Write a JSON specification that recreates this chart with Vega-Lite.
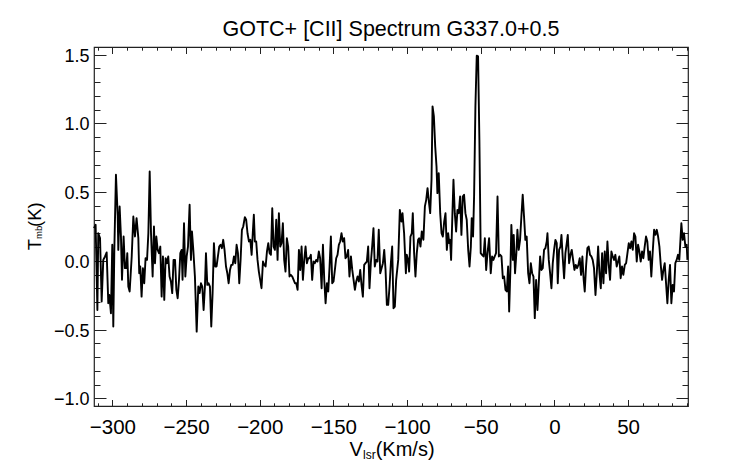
{
  "$schema": "https://vega.github.io/schema/vega-lite/v6.json",
  "width": 594,
  "height": 359,
  "autosize": {"type": "none"},
  "padding": {"left": 94, "top": 47, "right": 54, "bottom": 58},
  "background": "white",
  "title": {
    "text": "GOTC+ [CII] Spectrum G337.0+0.5",
    "font": "Liberation Sans",
    "fontSize": 21.5,
    "fontWeight": "normal",
    "color": "#000",
    "anchor": "middle",
    "frame": "group",
    "offset": 6
  },
  "datasets": {
    "spec": [
      {"v":-312.5,"T":0.238},{"v":-311.4,"T":0.262},{"v":-310.2,"T":-0.357},{"v":-309.6,"T":0.201},{"v":-308.4,"T":0.165},
      {"v":-307.3,"T":-0.296},{"v":-306.2,"T":0.007},{"v":-305.0,"T":0.032},{"v":-303.9,"T":0.061},{"v":-302.8,"T":-0.308},
      {"v":-302.1,"T":-0.248},{"v":-301.0,"T":-0.381},{"v":-300.1,"T":0.117},{"v":-299.4,"T":-0.478},{"v":-298.7,"T":0.080},
      {"v":-297.6,"T":0.626},{"v":-296.4,"T":0.323},{"v":-296.0,"T":0.080},{"v":-295.1,"T":0.396},{"v":-294.2,"T":0.177},
      {"v":-293.5,"T":-0.138},{"v":-292.4,"T":0.177},{"v":-291.5,"T":-0.053},{"v":-290.6,"T":-0.053},{"v":-289.9,"T":0.056},
      {"v":-289.2,"T":-0.187},{"v":-288.3,"T":-0.223},{"v":-286.9,"T":0.032},{"v":-285.8,"T":0.323},{"v":-284.7,"T":0.177},
      {"v":-283.6,"T":0.311},{"v":-282.4,"T":0.165},{"v":-281.8,"T":-0.090},{"v":-281.1,"T":-0.041},{"v":-280.2,"T":-0.260},
      {"v":-279.3,"T":-0.053},{"v":-278.4,"T":-0.163},{"v":-277.5,"T":0.019},{"v":-276.5,"T":0.007},{"v":-275.6,"T":0.201},
      {"v":-274.7,"T":0.650},{"v":-273.8,"T":0.201},{"v":-272.7,"T":-0.114},{"v":-271.8,"T":0.250},{"v":-271.1,"T":-0.017},
      {"v":-270.2,"T":0.177},{"v":-269.3,"T":0.080},{"v":-268.4,"T":0.056},{"v":-267.5,"T":0.104},{"v":-266.6,"T":-0.260},
      {"v":-265.7,"T":0.032},{"v":-264.8,"T":-0.284},{"v":-263.9,"T":0.019},{"v":-263.0,"T":-0.017},{"v":-262.1,"T":0.032},
      {"v":-261.2,"T":-0.114},{"v":-260.3,"T":-0.150},{"v":-259.4,"T":-0.235},{"v":-258.5,"T":0.007},{"v":-257.5,"T":0.007},
      {"v":-256.6,"T":-0.211},{"v":-255.7,"T":-0.272},{"v":-254.8,"T":-0.138},{"v":-253.9,"T":0.056},{"v":-253.0,"T":0.080},
      {"v":-252.4,"T":-0.138},{"v":-251.4,"T":0.274},{"v":-250.5,"T":-0.114},{"v":-249.6,"T":0.032},{"v":-248.7,"T":0.104},
      {"v":-247.6,"T":0.408},{"v":-246.7,"T":0.007},{"v":-246.0,"T":0.214},{"v":-245.1,"T":0.080},{"v":-244.0,"T":-0.114},
      {"v":-242.8,"T":-0.515},{"v":-241.7,"T":-0.187},{"v":-240.8,"T":-0.235},{"v":-239.9,"T":-0.163},{"v":-239.0,"T":-0.187},
      {"v":-238.1,"T":-0.357},{"v":-237.2,"T":-0.187},{"v":-236.5,"T":0.056},{"v":-235.6,"T":-0.175},{"v":-234.7,"T":-0.163},
      {"v":-233.8,"T":-0.187},{"v":-232.9,"T":-0.478},{"v":-232.0,"T":-0.235},{"v":-231.1,"T":0.129},{"v":-230.2,"T":-0.041},
      {"v":-229.3,"T":-0.041},{"v":-228.4,"T":0.032},{"v":-227.5,"T":0.104},{"v":-226.6,"T":0.117},{"v":-225.7,"T":0.092},
      {"v":-224.8,"T":0.153},{"v":-223.9,"T":0.080},{"v":-222.9,"T":-0.041},{"v":-222.0,"T":-0.090},{"v":-221.1,"T":-0.163},
      {"v":-220.2,"T":-0.066},{"v":-219.3,"T":-0.029},{"v":-218.4,"T":-0.029},{"v":-217.5,"T":0.032},{"v":-216.6,"T":-0.017},
      {"v":-215.7,"T":0.117},{"v":-214.8,"T":0.056},{"v":-213.9,"T":-0.163},{"v":-213.0,"T":0.007},{"v":-212.1,"T":0.226},
      {"v":-211.2,"T":0.250},{"v":-210.1,"T":0.318},{"v":-209.2,"T":0.299},{"v":-208.3,"T":0.201},{"v":-207.3,"T":0.141},
      {"v":-206.4,"T":0.153},{"v":-205.5,"T":0.044},{"v":-204.6,"T":0.226},{"v":-204.0,"T":0.335},{"v":-203.3,"T":0.141},
      {"v":-202.4,"T":0.141},{"v":-201.5,"T":0.007},{"v":-200.6,"T":-0.078},{"v":-199.7,"T":-0.138},{"v":-198.8,"T":-0.199},
      {"v":-197.8,"T":-0.005},{"v":-196.9,"T":-0.029},{"v":-196.0,"T":-0.041},{"v":-195.1,"T":0.068},{"v":-194.2,"T":0.129},
      {"v":-193.3,"T":0.056},{"v":-192.4,"T":0.044},{"v":-191.5,"T":0.383},{"v":-190.6,"T":0.104},{"v":-189.7,"T":0.080},
      {"v":-188.8,"T":0.299},{"v":-187.9,"T":0.007},{"v":-187.0,"T":0.347},{"v":-186.1,"T":0.104},{"v":-185.2,"T":0.129},
      {"v":-184.3,"T":0.274},{"v":-183.4,"T":0.007},{"v":-182.5,"T":-0.078},{"v":-181.6,"T":0.165},{"v":-180.7,"T":0.104},
      {"v":-179.8,"T":-0.114},{"v":-178.9,"T":-0.102},{"v":-177.9,"T":-0.114},{"v":-177.0,"T":-0.138},{"v":-176.1,"T":-0.163},
      {"v":-175.2,"T":-0.163},{"v":-174.3,"T":-0.211},{"v":-173.4,"T":0.080},{"v":-172.5,"T":-0.066},{"v":-171.6,"T":0.104},
      {"v":-170.7,"T":-0.138},{"v":-169.8,"T":0.007},{"v":-168.9,"T":0.104},{"v":-168.0,"T":-0.017},{"v":-167.1,"T":0.019},
      {"v":-166.2,"T":0.019},{"v":-165.3,"T":0.044},{"v":-164.4,"T":-0.138},{"v":-163.5,"T":-0.005},{"v":-162.6,"T":-0.017},
      {"v":-161.7,"T":0.007},{"v":-160.8,"T":-0.005},{"v":-159.9,"T":0.068},{"v":-159.0,"T":0.019},{"v":-158.0,"T":-0.199},
      {"v":-157.1,"T":0.117},{"v":-156.2,"T":-0.138},{"v":-155.3,"T":-0.308},{"v":-154.4,"T":-0.163},{"v":-153.5,"T":-0.223},
      {"v":-152.6,"T":-0.041},{"v":-151.7,"T":0.177},{"v":-150.8,"T":-0.163},{"v":-149.9,"T":-0.150},{"v":-149.0,"T":-0.066},
      {"v":-148.1,"T":0.019},{"v":-147.2,"T":0.044},{"v":-146.3,"T":0.117},{"v":-145.4,"T":0.141},{"v":-144.5,"T":0.201},
      {"v":-143.6,"T":0.141},{"v":-142.7,"T":0.165},{"v":-141.8,"T":0.019},{"v":-140.9,"T":0.032},{"v":-140.0,"T":0.080},
      {"v":-139.1,"T":-0.114},{"v":-138.1,"T":0.032},{"v":-137.2,"T":-0.066},{"v":-136.3,"T":-0.138},{"v":-135.4,"T":-0.211},
      {"v":-134.5,"T":-0.150},{"v":-133.6,"T":-0.114},{"v":-132.7,"T":-0.150},{"v":-131.8,"T":-0.066},{"v":-130.9,"T":-0.175},
      {"v":-130.0,"T":-0.260},{"v":-129.1,"T":-0.029},{"v":-128.2,"T":-0.017},{"v":-127.3,"T":-0.005},{"v":-126.4,"T":0.104},
      {"v":-125.5,"T":-0.199},{"v":-124.6,"T":-0.017},{"v":-123.7,"T":0.104},{"v":-122.8,"T":0.238},{"v":-121.9,"T":-0.041},
      {"v":-121.0,"T":0.007},{"v":-120.1,"T":-0.005},{"v":-119.2,"T":0.226},{"v":-118.2,"T":-0.090},{"v":-117.3,"T":-0.053},
      {"v":-116.4,"T":-0.017},{"v":-115.5,"T":0.080},{"v":-114.6,"T":-0.066},{"v":-113.7,"T":-0.320},{"v":-112.8,"T":-0.320},
      {"v":-111.9,"T":-0.187},{"v":-111.0,"T":-0.017},{"v":-110.1,"T":0.104},{"v":-109.2,"T":-0.345},{"v":-108.3,"T":-0.333},
      {"v":-107.4,"T":-0.138},{"v":-106.0,"T":0.007},{"v":-104.9,"T":0.371},{"v":-103.8,"T":0.286},{"v":-103.1,"T":0.347},
      {"v":-102.0,"T":0.201},{"v":-100.8,"T":-0.090},{"v":-100.2,"T":0.044},{"v":-99.3,"T":0.007},{"v":-98.6,"T":-0.078},
      {"v":-97.7,"T":0.177},{"v":-96.8,"T":0.201},{"v":-96.1,"T":0.347},{"v":-95.2,"T":0.056},{"v":-94.3,"T":-0.114},
      {"v":-93.4,"T":0.056},{"v":-92.5,"T":0.153},{"v":-91.8,"T":0.165},{"v":-90.9,"T":0.104},{"v":-90.0,"T":0.214},
      {"v":-88.9,"T":0.153},{"v":-87.9,"T":0.396},{"v":-87.0,"T":0.444},{"v":-86.1,"T":0.529},{"v":-85.2,"T":0.432},
      {"v":-84.3,"T":0.347},{"v":-83.4,"T":0.590},{"v":-82.7,"T":1.124},{"v":-81.8,"T":1.051},{"v":-80.9,"T":0.833},
      {"v":-80.0,"T":0.687},{"v":-79.4,"T":0.493},{"v":-78.5,"T":0.638},{"v":-77.5,"T":0.347},{"v":-76.6,"T":0.201},
      {"v":-75.7,"T":0.177},{"v":-74.8,"T":0.286},{"v":-73.9,"T":0.347},{"v":-73.0,"T":0.080},{"v":-72.1,"T":0.201},
      {"v":-71.4,"T":0.129},{"v":-70.8,"T":0.153},{"v":-70.1,"T":0.007},{"v":-69.2,"T":0.347},{"v":-68.5,"T":0.590},
      {"v":-67.6,"T":0.347},{"v":-66.7,"T":0.214},{"v":-65.8,"T":0.371},{"v":-64.9,"T":0.347},{"v":-64.0,"T":0.468},
      {"v":-63.1,"T":0.189},{"v":-62.2,"T":0.468},{"v":-61.3,"T":0.481},{"v":-60.4,"T":0.347},{"v":-59.5,"T":0.299},
      {"v":-58.5,"T":0.080},{"v":-57.6,"T":-0.041},{"v":-56.7,"T":0.104},{"v":-56.1,"T":0.311},{"v":-55.2,"T":0.177},
      {"v":-54.5,"T":0.468},{"v":-53.6,"T":1.124},{"v":-52.7,"T":1.493},{"v":-51.8,"T":1.488},{"v":-50.9,"T":0.881},
      {"v":-50.0,"T":0.056},{"v":-49.1,"T":0.044},{"v":-48.1,"T":0.032},{"v":-47.2,"T":0.165},{"v":-46.3,"T":-0.066},
      {"v":-45.4,"T":0.056},{"v":-44.3,"T":0.165},{"v":-43.2,"T":-0.090},{"v":-42.3,"T":0.032},{"v":-41.4,"T":0.007},
      {"v":-40.5,"T":0.032},{"v":-39.6,"T":0.056},{"v":-38.6,"T":0.468},{"v":-37.7,"T":0.032},{"v":-36.8,"T":0.044},
      {"v":-35.9,"T":0.032},{"v":-35.0,"T":-0.126},{"v":-34.1,"T":-0.114},{"v":-33.2,"T":-0.211},{"v":-32.3,"T":-0.223},
      {"v":-31.4,"T":-0.041},{"v":-30.7,"T":-0.369},{"v":-29.8,"T":-0.041},{"v":-29.2,"T":0.262},{"v":-28.2,"T":0.007},
      {"v":-27.6,"T":0.189},{"v":-26.7,"T":-0.090},{"v":-25.8,"T":0.056},{"v":-25.1,"T":0.226},{"v":-24.2,"T":0.080},
      {"v":-23.3,"T":0.153},{"v":-22.4,"T":0.323},{"v":-21.5,"T":0.481},{"v":-20.6,"T":0.323},{"v":-19.7,"T":0.153},
      {"v":-18.8,"T":0.177},{"v":-17.8,"T":-0.090},{"v":-16.9,"T":-0.163},{"v":-16.0,"T":-0.017},{"v":-15.1,"T":-0.090},
      {"v":-14.2,"T":-0.114},{"v":-13.3,"T":-0.417},{"v":-12.4,"T":-0.138},{"v":-11.5,"T":-0.357},{"v":-10.6,"T":-0.163},
      {"v":-9.7,"T":0.032},{"v":-8.8,"T":-0.066},{"v":-7.9,"T":-0.053},{"v":-7.0,"T":0.080},{"v":-6.1,"T":0.092},
      {"v":-5.2,"T":0.141},{"v":-4.7,"T":0.201},{"v":-3.8,"T":0.007},{"v":-2.9,"T":-0.090},{"v":-2.0,"T":-0.199},
      {"v":-1.1,"T":-0.017},{"v":-0.2,"T":0.080},{"v":0.7,"T":0.153},{"v":1.6,"T":0.129},{"v":2.3,"T":-0.163},
      {"v":3.2,"T":0.080},{"v":4.1,"T":0.104},{"v":4.8,"T":0.189},{"v":5.7,"T":0.019},{"v":6.6,"T":-0.126},
      {"v":7.5,"T":0.056},{"v":8.4,"T":0.129},{"v":9.1,"T":0.189},{"v":10.0,"T":-0.017},{"v":10.9,"T":0.044},
      {"v":11.8,"T":0.080},{"v":12.7,"T":0.007},{"v":13.6,"T":-0.066},{"v":14.5,"T":-0.029},{"v":15.4,"T":-0.053},
      {"v":16.3,"T":-0.029},{"v":17.2,"T":0.019},{"v":18.1,"T":-0.102},{"v":19.0,"T":0.032},{"v":19.9,"T":-0.138},
      {"v":20.6,"T":-0.223},{"v":21.5,"T":-0.041},{"v":22.4,"T":0.092},{"v":23.3,"T":0.104},{"v":24.2,"T":0.044},
      {"v":25.1,"T":0.032},{"v":26.0,"T":0.007},{"v":26.9,"T":-0.053},{"v":27.9,"T":-0.248},{"v":28.8,"T":-0.090},
      {"v":29.7,"T":0.104},{"v":30.6,"T":-0.090},{"v":31.5,"T":-0.199},{"v":32.4,"T":0.056},{"v":33.3,"T":-0.163},
      {"v":34.2,"T":0.068},{"v":35.1,"T":-0.090},{"v":36.0,"T":0.141},{"v":36.9,"T":-0.029},{"v":37.8,"T":-0.138},
      {"v":38.7,"T":0.068},{"v":39.6,"T":0.032},{"v":40.5,"T":0.007},{"v":41.4,"T":0.044},{"v":42.3,"T":-0.041},
      {"v":43.2,"T":-0.005},{"v":44.1,"T":0.032},{"v":45.0,"T":-0.126},{"v":45.9,"T":-0.041},{"v":46.8,"T":-0.102},
      {"v":47.8,"T":-0.029},{"v":48.7,"T":-0.017},{"v":49.6,"T":0.056},{"v":50.5,"T":0.129},{"v":51.4,"T":0.092},
      {"v":52.3,"T":0.141},{"v":53.2,"T":0.080},{"v":54.1,"T":0.201},{"v":55.0,"T":0.177},{"v":55.9,"T":-0.005},
      {"v":56.8,"T":0.117},{"v":57.7,"T":0.068},{"v":58.6,"T":-0.005},{"v":59.5,"T":0.068},{"v":60.4,"T":0.019},
      {"v":61.3,"T":0.104},{"v":62.2,"T":0.177},{"v":63.1,"T":0.141},{"v":64.0,"T":0.007},{"v":64.9,"T":0.068},
      {"v":65.8,"T":-0.114},{"v":66.7,"T":0.056},{"v":67.7,"T":0.226},{"v":68.6,"T":0.189},{"v":69.5,"T":0.226},
      {"v":70.4,"T":0.177},{"v":71.3,"T":0.104},{"v":72.2,"T":-0.029},{"v":73.1,"T":-0.138},{"v":74.0,"T":-0.066},
      {"v":74.9,"T":-0.017},{"v":75.8,"T":-0.163},{"v":76.7,"T":-0.308},{"v":77.6,"T":-0.138},{"v":78.5,"T":-0.029},
      {"v":79.4,"T":-0.308},{"v":80.3,"T":-0.175},{"v":81.2,"T":-0.223},{"v":82.1,"T":-0.017},{"v":83.0,"T":0.007},
      {"v":83.9,"T":0.044},{"v":84.8,"T":0.007},{"v":85.7,"T":0.177},{"v":86.2,"T":0.274},{"v":87.1,"T":0.153},
      {"v":88.0,"T":0.201},{"v":88.9,"T":0.104},{"v":89.8,"T":0.117},{"v":90.3,"T":0.007}
    ]
  },
  "data": {"name": "spec"},
  "resolve": {"axis": {"x": "independent", "y": "independent"}},
  "layer": [
    {
      "mark": {"type": "line", "color": "#000", "strokeWidth": 1.9, "strokeJoin": "round"},
      "encoding": {
        "x": {
          "field": "v", "type": "quantitative",
          "scale": {"domain": [-312.5, 90.7], "nice": false, "zero": false},
          "axis": {
            "orient": "bottom", "values": [-300, -250, -200, -150, -100, -50, 0, 50],
            "ticks": false, "format": "d", "labelFontSize": 20.5, "labelPadding": 11.5,
            "labelBaseline": "top", "labelFlush": false, "labelOverlap": false,
            "title": "V", "titleFontSize": 20, "titleX": 255, "titleY": 49,
            "titleAlign": "left", "titleBaseline": "alphabetic"
          }
        },
        "y": {
          "field": "T", "type": "quantitative",
          "scale": {"domain": [-1.056, 1.556], "nice": false, "zero": false},
          "axis": {
            "orient": "left", "values": [-1, -0.5, 0, 0.5, 1, 1.5],
            "ticks": false, "format": ".1f", "labelFontSize": 18, "labelPadding": 5,
            "labelOffset": 1.5, "labelFlush": false, "labelOverlap": false,
            "title": "T", "titleFontSize": 18.5, "titleAngle": -90, "titleX": -53.3, "titleY": 202.7,
            "titleAlign": "left", "titleBaseline": "alphabetic"
          }
        }
      }
    },
    {
      "mark": {"type": "line", "strokeOpacity": 0},
      "encoding": {
        "x": {
          "field": "v", "type": "quantitative",
          "axis": {
            "orient": "bottom", "values": [-300, -250, -200, -150, -100, -50, 0, 50],
            "labels": false, "tickSize": -6.5,
            "title": "lsr", "titleFontSize": 12, "titleX": 268.5, "titleY": 52.3,
            "titleAlign": "left", "titleBaseline": "alphabetic"
          }
        },
        "y": {
          "field": "T", "type": "quantitative",
          "axis": {
            "orient": "left", "values": [-1, -0.5, 0, 0.5, 1, 1.5],
            "labels": false, "tickSize": -12,
            "title": "mb", "titleFontSize": 9.5, "titleAngle": -90, "titleX": -52.5, "titleY": 191.5,
            "titleAlign": "left", "titleBaseline": "alphabetic"
          }
        }
      }
    },
    {
      "mark": {"type": "line", "strokeOpacity": 0},
      "encoding": {
        "x": {
          "field": "v", "type": "quantitative",
          "axis": {
            "orient": "bottom",
            "values": [-310, -290, -280, -270, -260, -240, -230, -220, -210, -190, -180, -170, -160, -140, -130, -120, -110, -90, -80, -70, -60, -40, -30, -20, -10, 10, 20, 30, 40, 60, 70, 80, 90],
            "labels": false, "tickSize": -3.2,
            "title": "(Km/s)", "titleFontSize": 20, "titleX": 281.2, "titleY": 49,
            "titleAlign": "left", "titleBaseline": "alphabetic"
          }
        },
        "y": {
          "field": "T", "type": "quantitative",
          "axis": {
            "orient": "left",
            "values": [-0.9, -0.8, -0.7, -0.6, -0.4, -0.3, -0.2, -0.1, 0.1, 0.2, 0.3, 0.4, 0.6, 0.7, 0.8, 0.9, 1.1, 1.2, 1.3, 1.4],
            "labels": false, "tickSize": -6,
            "title": "(K)", "titleFontSize": 18.5, "titleAngle": -90, "titleX": -53.3, "titleY": 179.5,
            "titleAlign": "left", "titleBaseline": "alphabetic"
          }
        }
      }
    },
    {
      "mark": {"type": "line", "strokeOpacity": 0},
      "encoding": {
        "x": {
          "field": "v", "type": "quantitative",
          "axis": {
            "orient": "top", "values": [-300, -250, -200, -150, -100, -50, 0, 50],
            "labels": false, "tickSize": -6.5, "title": null
          }
        },
        "y": {
          "field": "T", "type": "quantitative",
          "axis": {
            "orient": "right", "values": [-1, -0.5, 0, 0.5, 1, 1.5],
            "labels": false, "tickSize": -12, "title": null
          }
        }
      }
    },
    {
      "mark": {"type": "line", "strokeOpacity": 0},
      "encoding": {
        "x": {
          "field": "v", "type": "quantitative",
          "axis": {
            "orient": "top",
            "values": [-310, -290, -280, -270, -260, -240, -230, -220, -210, -190, -180, -170, -160, -140, -130, -120, -110, -90, -80, -70, -60, -40, -30, -20, -10, 10, 20, 30, 40, 60, 70, 80, 90],
            "labels": false, "tickSize": -3.2, "title": null
          }
        },
        "y": {
          "field": "T", "type": "quantitative",
          "axis": {
            "orient": "right",
            "values": [-0.9, -0.8, -0.7, -0.6, -0.4, -0.3, -0.2, -0.1, 0.1, 0.2, 0.3, 0.4, 0.6, 0.7, 0.8, 0.9, 1.1, 1.2, 1.3, 1.4],
            "labels": false, "tickSize": -6, "title": null
          }
        }
      }
    }
  ],
  "config": {
    "view": {"stroke": "#222", "strokeWidth": 1.2},
    "axis": {
      "grid": false,
      "domain": false,
      "labelFont": "Liberation Sans",
      "titleFont": "Liberation Sans",
      "labelColor": "#000",
      "titleColor": "#000",
      "titleFontWeight": "normal",
      "tickColor": "#222",
      "tickWidth": 1
    }
  }
}
